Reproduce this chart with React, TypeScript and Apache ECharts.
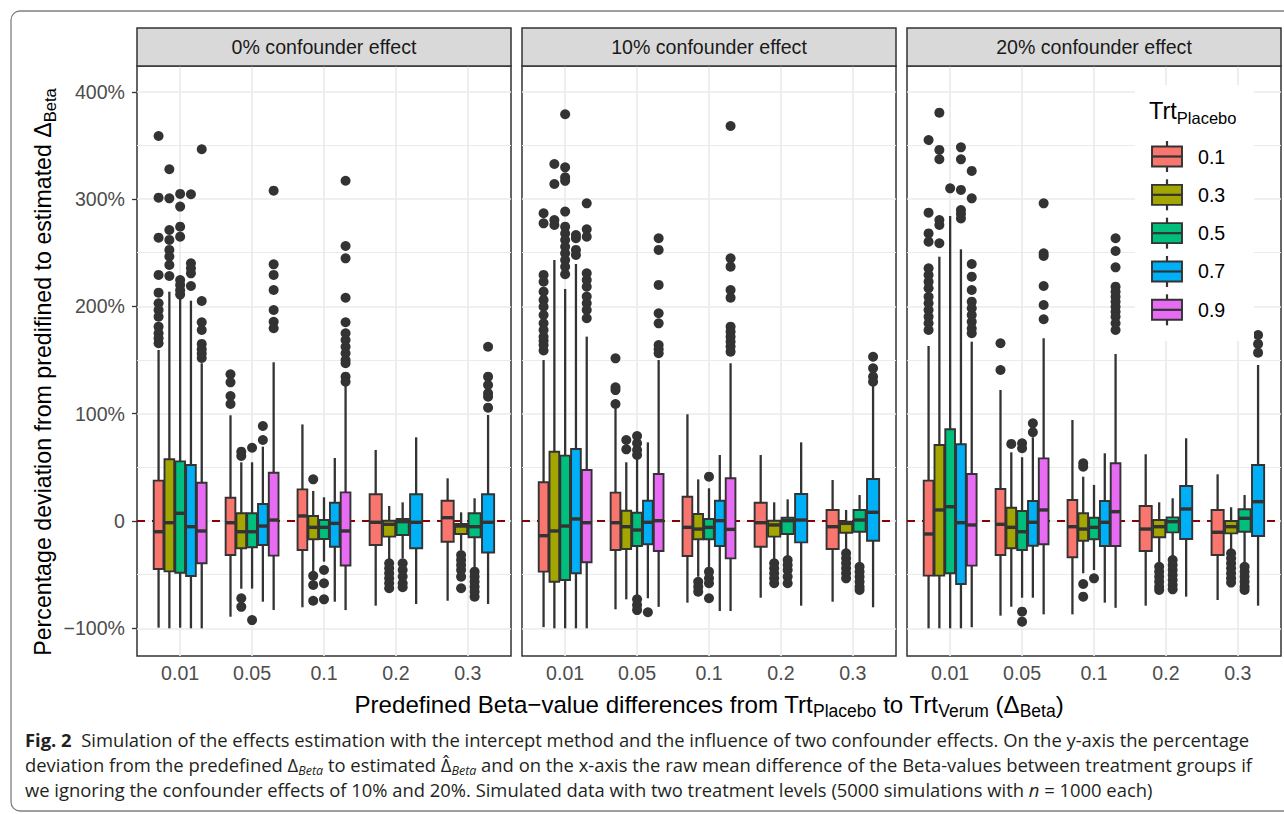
import React, { useEffect, useRef } from "react";
import * as echarts from "echarts";

// ---------- data ----------
const categories = ["0.01", "0.05", "0.1", "0.2", "0.3"];
const trtPlacebo = ["0.1", "0.3", "0.5", "0.7", "0.9"];
const groupColors = ["#F8766D", "#A3A500", "#00BF7D", "#00B0F6", "#E76BF3"];
const panelTitles = ["0% confounder effect", "10% confounder effect", "20% confounder effect"];
const yTicks = [-100, 0, 100, 200, 300, 400];
const yMinor = [-50, 50, 150, 250, 350];
const yRange = [-125.8, 424];
const refLine = 0;

// box statistics [min, Q1, median, Q3, max] — per category, per Trt_Placebo group
const box0 = [
  [[-99.4, -44.7, -10, 37.6, 159.4], [-100, -46.9, -1.6, 57.5, 213.7], [-99.4, -48.2, 7.2, 55.6, 209], [-100, -51.3, -5.3, 52.2, 205.3], [-100, -39.4, -9.3, 35.7, 147]],
  [[-89.2, -31.7, -1.6, 21.7, 98.5], [-63.1, -25.4, -10, 7.2, 54.7], [-63, -24.5, -10, 7.2, 54.7], [-75.2, -22.4, -4.7, 15.8, 69.3], [-82.9, -32.3, 0.9, 45, 147.9]],
  [[-80.4, -27, 4.7, 29.5, 90], [-46.6, -17, -5.9, 4.7, 28], [-37.9, -16.8, -5.9, 0.9, 22.1], [-75.2, -24, -2.2, 17, 58.7], [-83, -41.5, -9.3, 26.7, 128.4]],
  [[-78.9, -22.4, -1.2, 24.9, 66.2], [-36.3, -14.6, -3.1, 0.3, 14], [-34.8, -13, -0.6, 1.9, 17.4], [-77.4, -25.4, -1.2, 24.9, 78]],
  [[-74.3, -19.3, 3.1, 18.9, 39.8], [-27, -12.1, -4.7, -2.8, 8.1], [-43.1, -15.2, -5.3, 7.2, 21.2], [-77.4, -29.4, -1.2, 24.9, 98.8]],
];
const box1 = [
  [[-98.9, -47.2, -13.7, 36.1, 150], [-100, -56.6, -9.3, 64.6, 243.2], [-100, -55, -4.7, 60.9, 216.2], [-100, -48.7, 1.9, 67.1, 239.5], [-100, -38.5, -1.6, 47.5, 171.8]],
  [[-82.3, -27, -1.6, 26.4, 105], [-73, -26.1, -5.3, 9.6, 54.7], [-70.5, -23.3, -8.4, 7.7, 58.4], [-72, -21.7, -1.2, 18.9, 73.3], [-80, -28, 0.3, 43.8, 150]],
  [[-76.1, -32.6, -5.9, 22.6, 99.4], [-51.9, -17, -7.5, 6.5, 38.8], [-43.1, -17, -5.9, 1.9, 30.5], [-83.9, -23.3, 0.3, 18.9, 61.5], [-83.9, -34.8, -7.8, 39.8, 147]],
  [[-71.5, -24, -1.6, 17, 61.5], [-36.3, -14.6, -3.7, 0.3, 17.4], [-33.3, -12.1, 0.3, 3.1, 20.2], [-78.9, -19.9, 0.9, 25.2, 73.3]],
  [[-75.2, -26.1, -5.3, 10.3, 38.2], [-27, -10.9, -2.2, -0.6, 10.3], [-39.4, -10, 0.9, 10.3, 24.2], [-80.4, -18.4, 8.1, 39.1, 128.4]],
];
const box2 = [
  [[-100, -50.9, -12.1, 37.6, 163.1], [-100, -50.9, 10.3, 70.8, 246.3], [-100, -48.7, 13.3, 85.5, 284.2], [-100, -58.7, -1.6, 71.5, 253.2], [-99, -41.6, -3.7, 43.8, 167.1]],
  [[-88.2, -31.7, -3.1, 29.8, 122.1], [-79.9, -25.4, -5.9, 12.4, 64], [-71.5, -27, -10, 9.3, 59.4], [-71.5, -23, -1.2, 18.6, 78], [-87, -21.7, 10.3, 58.4, 170.3]],
  [[-87, -33.8, -5.3, 19.6, 94.1], [-48.7, -18.4, -7.5, 7.2, 41.3], [-45.7, -17, -5.9, 3.1, 33.6], [-76.1, -23.3, -1.2, 18.6, 63.1], [-80.9, -23.3, 8.7, 53.8, 155.6]],
  [[-78.9, -28, -7.5, 14, 62.2], [-39.4, -15.2, -5.3, 0.9, 17.4], [-33.3, -10.6, -0.6, 3.4, 21.2], [-70.5, -16.8, 11.2, 32.6, 77.1]],
  [[-73.6, -31.7, -10.5, 10.3, 43.5], [-27, -11.5, -5.3, 0, 12.8], [-39.4, -10, 2.5, 10.9, 24.2], [-78.9, -14, 18, 52.2, 145.4]],
];

// outliers — per category, per group
const out0 = [
  [[358.8, 301.3, 264, 229.3, 212.8, 202.9, 196.6, 190.4, 181.1, 174.9, 170.3, 165.6], [327.8, 300.7, 271.2, 261.9, 252.6, 246.4, 238.6, 228.3], [304.8, 293, 274.3, 265, 224.6, 220, 215, 211], [304.5, 240.2, 235.5, 230.8, 219], [346.4, 205, 185.2, 178, 165, 160, 156, 152]],
  [[136.7, 129.2, 116.5, 109], [64.6, 60.6, -72, -80], [68.3, -92.3], [88.5, 75.5], [307.8, 239.2, 229.3, 215.3, 196.6, 185.7, 179.6]],
  [[], [38.8, -51, -59.6, -74.3], [-45.7, -58, -73], [], [317.1, 256.3, 244.8, 208, 185.2, 175, 168.7, 162.4, 156.3, 150, 147, 134.5, 129.8]],
  [[], [-39.4, -44, -48.7, -53.4, -58, -62.7], [-39.4, -45.6, -51.8, -58, -61.7], []],
  [[], [-31.7, -36.3, -41, -45.7, -51.9, -62.7], [-47.2, -51.9, -56.6, -61.2, -65.9, -70.5], [162.4, 134.5, 126.7, 119, 115.8, 105.6]],
];
const out1 = [
  [[286.8, 277.4, 229.3, 223, 213.7, 206, 199.7, 192, 184.3, 178, 171.8, 168, 164, 159], [332.7, 314, 280.5, 275.9], [379, 329.6, 320.3, 317, 288.3, 274.3, 268, 261.9, 255.6, 249.5, 243.2, 237, 230], [266.5, 263.5, 252.6, 247.9], [296, 271.8, 265, 230.8, 224.6, 218.4, 209.1, 203, 196.6, 188.9]],
  [[151.6, 124.6, 122, 109], [75.5, 66.8], [79.2, 72.4, 66.2, 61.5, -73, -78.3, -83], [-85], [263.5, 252.6, 220, 193.6, 184.2, 164, 160, 156.3]],
  [[], [-56.6, -61.2, -65.9], [41.3, -47.2, -53.4, -58, -72], [], [368.1, 244.8, 237, 215.3, 208.1, 181.1, 176.4, 171.8, 167.1, 162.5, 157.8]],
  [[], [-39.4, -44, -48.7, -53.4, -58], [-36.3, -41, -45.7, -51.9, -58], []],
  [[], [-30.1, -34.8, -39.4, -44, -48.7, -53.4], [-42.6, -47.2, -51.9, -56.6, -61.2, -64.3], [153.1, 142.3, 134.5, 129.8]],
];
const out2 = [
  [[355, 287.3, 268, 260.3, 235.5, 229.3, 223, 216.9, 209, 202.9, 196.6, 190.4, 184.2, 178], [380.5, 345.8, 337.1, 280.5, 275.9, 258.8], [310], [348.2, 337, 308.5, 289.8, 286.1, 282], [326.2, 300.7, 239.5, 227.7, 215.3, 204.4, 198.2, 192, 185.7, 179.5, 175]],
  [[165.6, 140.7], [71.8], [72.4, 67.8, -84.5, -93.8], [91, 82.7], [296, 249.5, 247, 219, 201.3, 188]],
  [[], [53.8, 50.6, -58.7, -70.5], [-53.4], [], [263.5, 251.6, 236.4, 218.4, 213.7, 209, 204.4, 199.7, 195.1, 190.4, 184.2, 178]],
  [[], [-42.6, -47.2, -51.9, -56.6, -61.2, -64.3], [-36.3, -41, -45.7, -50.3, -55, -59.6, -63.7], []],
  [[], [-30.1, -34.8, -39.4, -44, -48.7, -53.4, -57.4], [-42.6, -47.2, -51.9, -56.6, -61.2, -64.3], [173.3, 165, 156.9]],
];

// ---------- layout / style ----------
const FONT = "'Liberation Sans', Arial, Helvetica, sans-serif";
const CAP_FONT = "'Open Sans', 'Noto Sans', sans-serif";
const SMALL = 19.6;
const gridLefts = [137, 522, 907];
const gridW = 374;
const gridTop = 66;
const gridH = 590;
const DARK = "#333333";

const fmtY = (v: number) => (v === 0 ? "0" : (v < 0 ? "\u2212" + Math.abs(v) : String(v)) + "%");

function dodge(c: number, g: number, n: number) {
  const slot = 0.75 / n;
  return { x: c + 1 - 0.375 + slot * (g + 0.5), hw: slot * 0.45 };
}

function renderBox(params: any, api: any) {
  const x = api.value(0);
  const hw = api.value(6);
  const xc = api.coord([x, 0])[0];
  const xl = api.coord([x - hw, 0])[0];
  const xr = api.coord([x + hw, 0])[0];
  const yMin = api.coord([x, api.value(1)])[1];
  const yQ1 = api.coord([x, api.value(2)])[1];
  const yMed = api.coord([x, api.value(3)])[1];
  const yQ3 = api.coord([x, api.value(4)])[1];
  const yMax = api.coord([x, api.value(5)])[1];
  const color = api.visual("color");
  return {
    type: "group",
    children: [
      { type: "line", shape: { x1: xc, y1: yQ3, x2: xc, y2: yMax }, style: { stroke: DARK, lineWidth: 2.3 } },
      { type: "line", shape: { x1: xc, y1: yQ1, x2: xc, y2: yMin }, style: { stroke: DARK, lineWidth: 2.3 } },
      { type: "rect", shape: { x: xl, y: yQ3, width: xr - xl, height: yQ1 - yQ3 }, style: { fill: color, stroke: DARK, lineWidth: 1.9 } },
      { type: "line", shape: { x1: xl, y1: yMed, x2: xr, y2: yMed }, style: { stroke: DARK, lineWidth: 3.4 } },
    ],
  };
}

function buildOption() {
  const boxes = [box0, box1, box2];
  const outs = [out0, out1, out2];
  const grid = gridLefts.map((l) => ({
    left: l, top: gridTop, width: gridW, height: gridH, show: true,
    backgroundColor: "#ffffff", borderColor: DARK, borderWidth: 1.5, containLabel: false, outerBoundsMode: "none",
  }));
  const xAxis = gridLefts.map((_, i) => ({
    type: "value", gridIndex: i, min: 0.4, max: 5.6,
    axisLine: { show: false },
    axisTick: { show: true, customValues: [1, 2, 3, 4, 5], length: 5, lineStyle: { color: DARK, width: 1.3 } },
    axisLabel: {
      customValues: [1, 2, 3, 4, 5], formatter: (v: number) => categories[Math.round(v) - 1],
      color: "#4D4D4D", fontSize: SMALL, fontFamily: FONT, margin: 7,
    },
    splitLine: { show: true, lineStyle: { color: "#EBEBEB", width: 1.7 } },
  }));
  const yAxis = gridLefts.map((_, i) => ({
    type: "value", gridIndex: i, min: yRange[0], max: yRange[1],
    axisLine: { show: false },
    axisTick: { show: i === 0, customValues: yTicks, length: 5, lineStyle: { color: DARK, width: 1.3 } },
    axisLabel: { show: i === 0, customValues: yTicks, formatter: fmtY, color: "#4D4D4D", fontSize: SMALL, fontFamily: FONT, margin: 12 },
    splitLine: { show: true, lineStyle: { color: "#EBEBEB", width: 1.7 } },
  }));

  const series: any[] = [];
  boxes.forEach((box, p) => {
    series.push({
      type: "line", xAxisIndex: p, yAxisIndex: p, data: [], z: 1, silent: true,
      markLine: {
        silent: true, z: 1, symbol: ["none", "none"], label: { show: false }, animation: false,
        data: [
          ...yMinor.map((v) => ({ yAxis: v, lineStyle: { color: "#EBEBEB", width: 1.2, type: "solid" } })),
          { yAxis: refLine, lineStyle: { color: "#8B0000", width: 2, type: [8, 7] } },
        ],
      },
    });
    trtPlacebo.forEach((name, g) => {
      const data: number[][] = [];
      box.forEach((catStats, c) => {
        const s = catStats[g];
        if (!s) return;
        const d = dodge(c, g, catStats.length);
        data.push([d.x, ...s, d.hw]);
      });
      series.push({
        type: "custom", name, xAxisIndex: p, yAxisIndex: p, z: 2, silent: true,
        itemStyle: { color: groupColors[g] }, encode: { x: 0, y: [1, 2, 3, 4, 5] },
        data, renderItem: renderBox,
      });
    });
    trtPlacebo.forEach((name, g) => {
      const data: number[][] = [];
      outs[p].forEach((catOut, c) => {
        const vals = catOut[g];
        if (!vals) return;
        const d = dodge(c, g, boxes[p][c].length);
        vals.forEach((v) => data.push([d.x, v]));
      });
      series.push({
        type: "scatter", name: name + " outliers", xAxisIndex: p, yAxisIndex: p, z: 3, silent: true,
        symbol: "circle", symbolSize: 10, itemStyle: { color: DARK, opacity: 1 }, data,
      });
    });
  });

  const subRich = (size: number) => ({
    fontSize: size, fontFamily: FONT, fill: "#000", lineHeight: size, verticalAlign: "bottom",
  });

  const graphic: any[] = [
    { type: "rect", z: 50, shape: { x: 11, y: 11, width: 1300, height: 800, r: 9 }, style: { fill: "none", stroke: "#808080", lineWidth: 1.3 } },
  ];
  panelTitles.forEach((t, i) => {
    graphic.push({ type: "rect", z: 50, shape: { x: gridLefts[i], y: 28, width: gridW, height: gridTop - 28 }, style: { fill: "#D9D9D9", stroke: DARK, lineWidth: 1.5 } });
    graphic.push({ type: "text", z: 51, style: { text: t, x: gridLefts[i] + gridW / 2, y: (28 + gridTop) / 2, align: "center", verticalAlign: "middle", fontSize: SMALL, fontFamily: FONT, fill: "#1A1A1A" } });
  });
  // axis titles
  graphic.push({
    type: "text", z: 50,
    style: {
      text: "Predefined Beta\u2212value differences from Trt{s|Placebo} to Trt{s|Verum} (\u0394{s|Beta})",
      x: (gridLefts[0] + gridLefts[2] + gridW) / 2, y: 704, align: "center", verticalAlign: "middle",
      fontSize: 24.1, fontFamily: FONT, fill: "#000", lineHeight: 31, rich: { s: subRich(17.5) },
    },
  });
  graphic.push({
    type: "text", z: 50, x: 43, y: 372, rotation: Math.PI / 2,
    style: {
      text: "Percentage deviation from predifined to estimated \u0394{s|Beta}",
      x: 0, y: 0, align: "center", verticalAlign: "middle",
      fontSize: 23.2, fontFamily: FONT, fill: "#000", lineHeight: 30, rich: { s: subRich(16.5) },
    },
  });
  // legend
  graphic.push({ type: "rect", z: 100, shape: { x: 1135, y: 85, width: 119, height: 256 }, style: { fill: "#ffffff" } });
  graphic.push({
    type: "text", z: 101,
    style: {
      text: "Trt{s|Placebo}", x: 1149, y: 111, align: "left", verticalAlign: "middle",
      fontSize: 23.5, fontFamily: FONT, fill: "#000", lineHeight: 30, rich: { s: subRich(16.5) },
    },
  });
  trtPlacebo.forEach((lab, i) => {
    const cy = 156.5 + 38.33 * i;
    graphic.push(
      { type: "line", z: 101, shape: { x1: 1167, y1: cy - 15.5, x2: 1167, y2: cy + 15.5 }, style: { stroke: DARK, lineWidth: 2.2 } },
      { type: "rect", z: 102, shape: { x: 1152, y: cy - 10, width: 30, height: 20 }, style: { fill: groupColors[i], stroke: DARK, lineWidth: 1.9 } },
      { type: "line", z: 103, shape: { x1: 1152, y1: cy, x2: 1182, y2: cy }, style: { stroke: DARK, lineWidth: 2.2 } },
      { type: "text", z: 101, style: { text: lab, x: 1198, y: cy, align: "left", verticalAlign: "middle", fontSize: SMALL, fontFamily: FONT, fill: "#000" } },
    );
  });

  // caption
  const CAP = 18.4;
  const capBase = { fontSize: CAP, fontFamily: CAP_FONT, fill: "#231F20", align: "left", verticalAlign: "middle", lineHeight: 24 };
  const capSub = { fontSize: 12.5, fontFamily: CAP_FONT, fontStyle: "italic", fill: "#231F20", lineHeight: 12, verticalAlign: "bottom" };
  graphic.push({
    type: "text", z: 50,
    style: {
      ...capBase, x: 25, y: 739.5,
      text: "{b|Fig. 2}  Simulation of the effects estimation with the intercept method and the influence of two confounder effects. On the y-axis the percentage",
      rich: { b: { fontSize: CAP, fontFamily: CAP_FONT, fontWeight: "bold", fill: "#231F20" } },
    },
  });
  graphic.push({
    type: "text", z: 50,
    style: {
      ...capBase, x: 25, y: 764.5,
      text: "deviation from the predefined \u0394{s|Beta} to estimated \u0394\u0302{s|Beta} and on the x-axis the raw mean difference of the Beta-values between treatment groups if",
      rich: { s: capSub },
    },
  });
  graphic.push({
    type: "text", z: 50,
    style: {
      ...capBase, x: 25, y: 789.5,
      text: "we ignoring the confounder effects of 10% and 20%. Simulated data with two treatment levels (5000 simulations with {i|n} = 1000 each)",
      rich: { i: { fontSize: CAP, fontFamily: CAP_FONT, fontStyle: "italic", fill: "#231F20" } },
    },
  });

  return {
    animation: false,
    backgroundColor: "#ffffff",
    grid, xAxis, yAxis, series, graphic,
  };
}

export default function App() {
  const ref = useRef<HTMLDivElement>(null);
  useEffect(() => {
    if (!ref.current) return;
    const chart = echarts.init(ref.current, undefined, { renderer: "svg" });
    chart.setOption(buildOption() as any);
    return () => chart.dispose();
  }, []);
  return <div ref={ref} style={{ position: "fixed", left: 0, top: 0, width: 1284, height: 814, background: "#fff" }} />;
}
